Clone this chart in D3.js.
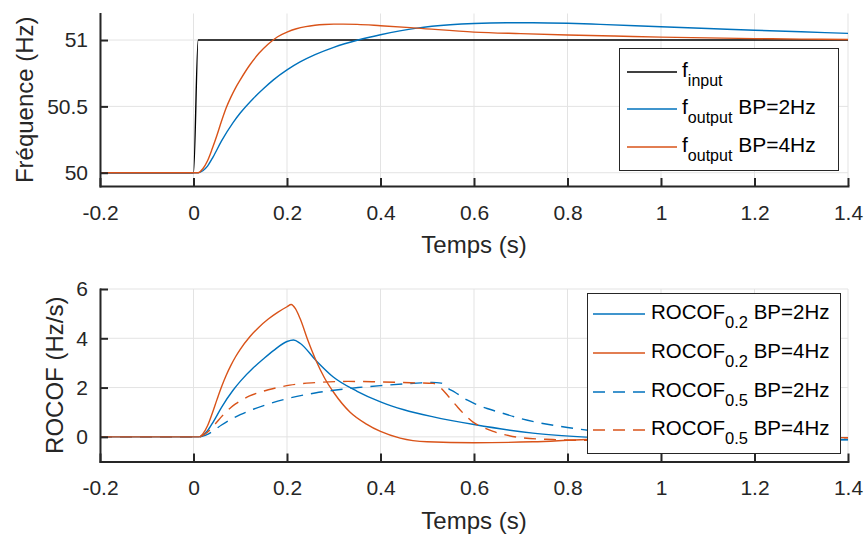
<!DOCTYPE html>
<html>
<head>
<meta charset="utf-8">
<script src="https://cdn.jsdelivr.net/npm/d3@7"></script>
<style>
  html, body { margin: 0; padding: 0; background: #fff; }
  svg { display: block; font-family: "Liberation Sans", Arial, Helvetica, sans-serif; }
  text { white-space: pre; }
</style>
</head>
<body>
<svg id="chart" width="864" height="535"></svg>
<script>
// ---------------- DATA ----------------
const xTicks = [-0.2, 0, 0.2, 0.4, 0.6, 0.8, 1, 1.2, 1.4];
const yTicksTop = [50, 50.5, 51];
const yTicksBottom = [0, 2, 4, 6];

// Top panel: frequency (Hz)
const tInput = [-0.2, 0, 0.01, 1.4];
const fInput = [50, 50, 51, 51];

const tOut2 = [-0.2, 0.01, 0.02, 0.03, 0.042, 0.06, 0.085, 0.1, 0.128, 0.15, 0.171, 0.2, 0.228, 0.26, 0.3, 0.352, 0.4, 0.478, 0.549, 0.6, 0.67, 0.726, 0.8, 0.87, 1.0, 1.1, 1.2, 1.3, 1.4];
const fOut2 = [50, 50, 50.015, 50.05, 50.12, 50.24, 50.38, 50.45, 50.56, 50.635, 50.70, 50.775, 50.835, 50.89, 50.945, 51.0, 51.04, 51.09, 51.115, 51.125, 51.13, 51.13, 51.126, 51.118, 51.10, 51.087, 51.074, 51.062, 51.05];

const tOut4 = [-0.2, 0.01, 0.02, 0.03, 0.04, 0.05, 0.06, 0.07, 0.08, 0.09, 0.1, 0.12, 0.14, 0.16, 0.18, 0.2, 0.22, 0.24, 0.26, 0.28, 0.3, 0.32, 0.35, 0.4, 0.478, 0.6, 0.7, 0.8, 0.9, 1.0, 1.1, 1.2, 1.3, 1.4];
const fOut4 = [50, 50, 50.03, 50.09, 50.18, 50.28, 50.39, 50.49, 50.57, 50.64, 50.70, 50.81, 50.90, 50.97, 51.025, 51.06, 51.085, 51.101, 51.111, 51.117, 51.12, 51.12, 51.118, 51.108, 51.09, 51.06, 51.048, 51.038, 51.03, 51.022, 51.016, 51.011, 51.007, 51.004];

// Bottom panel: ROCOF (Hz/s)
const tR02bp2 = [-0.2, 0.012, 0.02, 0.03, 0.042, 0.06, 0.085, 0.1, 0.128, 0.15, 0.171, 0.2, 0.214, 0.228, 0.262, 0.299, 0.35, 0.4, 0.45, 0.513, 0.6, 0.726, 0.84, 1.0, 1.2, 1.4];
const vR02bp2 = [0, 0, 0.07, 0.25, 0.6, 1.2, 1.9, 2.25, 2.8, 3.17, 3.5, 3.87, 3.93, 3.8, 3.1, 2.43, 1.85, 1.42, 1.1, 0.81, 0.5, 0.15, -0.01, -0.11, -0.12, -0.11];

const tR02bp4 = [-0.2, 0.012, 0.02, 0.03, 0.04, 0.05, 0.06, 0.07, 0.08, 0.09, 0.1, 0.12, 0.14, 0.16, 0.18, 0.2, 0.209, 0.218, 0.228, 0.245, 0.262, 0.28, 0.3, 0.335, 0.37, 0.4, 0.442, 0.5, 0.6, 0.726, 0.84, 1.0, 1.2, 1.4];
const vR02bp4 = [0, 0, 0.12, 0.45, 0.95, 1.5, 2.03, 2.5, 2.9, 3.25, 3.55, 4.05, 4.45, 4.78, 5.05, 5.28, 5.37, 5.2, 4.8, 3.9, 3.1, 2.4, 1.8, 1.0, 0.52, 0.22, -0.05, -0.2, -0.24, -0.2, -0.11, -0.07, -0.05, -0.03];

const tR05bp2 = [-0.2, 0.012, 0.02, 0.03, 0.042, 0.06, 0.085, 0.1, 0.128, 0.15, 0.2, 0.26, 0.3, 0.352, 0.4, 0.478, 0.51, 0.53, 0.542, 0.56, 0.585, 0.6, 0.628, 0.656, 0.7, 0.76, 0.8, 0.852, 0.9, 1.0, 1.1, 1.2, 1.3, 1.4];
const vR05bp2 = [0, 0, 0.03, 0.1, 0.24, 0.48, 0.76, 0.9, 1.12, 1.27, 1.55, 1.78, 1.89, 2.0, 2.08, 2.18, 2.21, 2.18, 2.0, 1.8, 1.5, 1.36, 1.15, 0.99, 0.74, 0.5, 0.38, 0.25, 0.16, 0.0, -0.08, -0.11, -0.12, -0.12];

const tR05bp4 = [-0.2, 0.012, 0.02, 0.03, 0.04, 0.05, 0.06, 0.07, 0.08, 0.09, 0.1, 0.12, 0.14, 0.16, 0.18, 0.206, 0.26, 0.33, 0.4, 0.478, 0.513, 0.527, 0.545, 0.563, 0.58, 0.598, 0.62, 0.641, 0.67, 0.698, 0.769, 0.84, 1.0, 1.2, 1.4];
const vR05bp4 = [0, 0, 0.06, 0.19, 0.38, 0.6, 0.82, 1.02, 1.19, 1.34, 1.46, 1.66, 1.8, 1.91, 2.0, 2.1, 2.2, 2.25, 2.23, 2.19, 2.17, 2.02, 1.65, 1.25, 0.9, 0.6, 0.38, 0.22, 0.07, -0.03, -0.11, -0.14, -0.12, -0.07, -0.04];

// ---------------- STYLE ----------------
const BLUE = "#0072BD", ORANGE = "#D95319", BLACK = "#000000";
const AXIS = "#262626", GRID = "#e3e3e3";

const svg = d3.select("#chart");
const L = 100, R = 848;
const x = d3.scaleLinear().domain([-0.2, 1.4]).range([L, R]);

const fmt = d => String(Math.round(d * 10) / 10);
const zip = (ts, vs) => ts.map((t, i) => [t, vs[i]]);

function panel(opts) {
  const y = d3.scaleLinear().domain(opts.yDomain).range([opts.bottom, opts.top]);
  const g = svg.append("g");
  const clipId = "clip" + opts.id;
  svg.append("clipPath").attr("id", clipId).append("rect")
    .attr("x", L).attr("y", opts.top).attr("width", R - L).attr("height", opts.bottom - opts.top);

  // grid
  g.append("g").selectAll("line").data(xTicks).join("line")
    .attr("x1", d => x(d)).attr("x2", d => x(d))
    .attr("y1", opts.top).attr("y2", opts.bottom)
    .attr("stroke", GRID).attr("stroke-width", 1);
  g.append("g").selectAll("line").data(opts.yTicks).join("line")
    .attr("x1", L).attr("x2", R)
    .attr("y1", d => y(d)).attr("y2", d => y(d))
    .attr("stroke", GRID).attr("stroke-width", 1);

  // series
  const line = d3.line().x(d => x(d[0])).y(d => y(d[1])).curve(d3.curveMonotoneX);
  const sg = g.append("g").attr("clip-path", `url(#${clipId})`);
  opts.series.forEach(s => {
    sg.append("path").attr("d", line(zip(s.t, s.v)))
      .attr("fill", "none").attr("stroke", s.color).attr("stroke-width", 1.4)
      .attr("stroke-linejoin", "round")
      .attr("stroke-dasharray", s.dash || null);
  });

  // axes
  const xa = g.append("g").attr("transform", `translate(0,${opts.bottom})`)
    .call(d3.axisBottom(x).tickValues(xTicks).tickFormat(fmt).tickSizeInner(-8).tickSizeOuter(0).tickPadding(19));
  const ya = g.append("g").attr("transform", `translate(${L},0)`)
    .call(d3.axisLeft(y).tickValues(opts.yTicks).tickFormat(fmt).tickSizeInner(-8).tickSizeOuter(0).tickPadding(12));
  [xa, ya].forEach(a => {
    a.select(".domain").attr("stroke", AXIS).attr("stroke-width", 2).attr("stroke-linecap", "square");
    a.selectAll(".tick line").attr("stroke", AXIS).attr("stroke-width", 2);
    a.selectAll(".tick text").attr("fill", AXIS).attr("font-size", 21)
      .attr("font-family", '"Liberation Sans", Arial, sans-serif');
  });

  // labels
  g.append("text").attr("x", (L + R) / 2).attr("y", opts.bottom + 67)
    .attr("text-anchor", "middle").attr("font-size", 24).attr("fill", AXIS).text("Temps (s)");
  g.append("text")
    .attr("transform", `translate(${opts.ylabelX},${(opts.top + opts.bottom) / 2}) rotate(-90)`)
    .attr("text-anchor", "middle").attr("font-size", 24).attr("fill", AXIS).text(opts.ylabel);
  return g;
}

panel({
  id: "top", top: 13.5, bottom: 186, yDomain: [49.9, 51.2], yTicks: yTicksTop,
  ylabel: "Fréquence (Hz)", ylabelX: 33,
  series: [
    { t: tInput, v: fInput, color: BLACK },
    { t: tOut2, v: fOut2, color: BLUE },
    { t: tOut4, v: fOut4, color: ORANGE }
  ]
});

panel({
  id: "bot", top: 289, bottom: 461.5, yDomain: [-1, 6], yTicks: yTicksBottom,
  ylabel: "ROCOF (Hz/s)", ylabelX: 63,
  series: [
    { t: tR02bp2, v: vR02bp2, color: BLUE },
    { t: tR02bp4, v: vR02bp4, color: ORANGE },
    { t: tR05bp2, v: vR05bp2, color: BLUE, dash: "12,8" },
    { t: tR05bp4, v: vR05bp4, color: ORANGE, dash: "12,8" }
  ]
});

// ---------------- LEGENDS ----------------
function legend(box, lineX, textX, rows, fs, subFs) {
  const g = svg.append("g");
  g.append("rect").attr("x", box[0] + 0.5).attr("y", box[1] + 0.5).attr("width", box[2]).attr("height", box[3])
    .attr("fill", "#fff").attr("stroke", AXIS).attr("stroke-width", 1);
  rows.forEach(r => {
    g.append("line").attr("x1", lineX[0]).attr("x2", lineX[1]).attr("y1", r.y).attr("y2", r.y)
      .attr("stroke", r.color).attr("stroke-width", 1.4).attr("stroke-dasharray", r.dash || null);
    const t = g.append("text").attr("x", textX).attr("y", r.y + 5).attr("font-size", fs).attr("fill", "#000");
    t.append("tspan").text(r.main);
    t.append("tspan").attr("dy", 9).attr("font-size", subFs).text(r.sub);
    if (r.rest) t.append("tspan").attr("dy", -9).text(r.rest);
  });
}

legend([619, 48, 219, 122], [627, 677], 682, [
  { y: 72, color: BLACK, main: "f", sub: "input" },
  { y: 109, color: BLUE, main: "f", sub: "output", rest: " BP=2Hz" },
  { y: 147, color: ORANGE, main: "f", sub: "output", rest: " BP=4Hz" }
], 21, 16);

legend([587, 293, 253, 160], [593, 645], 651, [
  { y: 314, color: BLUE, main: "ROCOF", sub: "0.2", rest: " BP=2Hz" },
  { y: 353, color: ORANGE, main: "ROCOF", sub: "0.2", rest: " BP=4Hz" },
  { y: 392, color: BLUE, dash: "12,8", main: "ROCOF", sub: "0.5", rest: " BP=2Hz" },
  { y: 430, color: ORANGE, dash: "12,8", main: "ROCOF", sub: "0.5", rest: " BP=4Hz" }
], 20.5, 16.5);
</script>
</body>
</html>
